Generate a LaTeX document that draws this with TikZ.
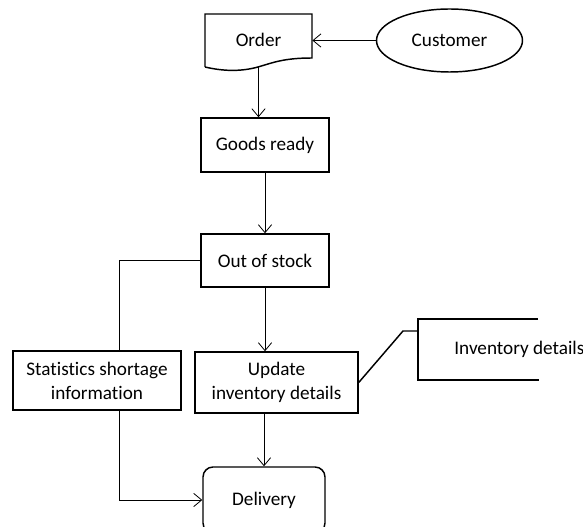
\documentclass[tikz,border=0pt]{standalone}
\usepackage{fontspec}
\setmainfont{Carlito}[Ligatures=CommonOff]
\usetikzlibrary{arrows.meta,shapes.geometric}

\begin{document}
\begin{tikzpicture}[x=0.75pt,y=-0.75pt,>={Straight Barb[length=6pt,width=10pt]},line width=0.6pt,
                    box/.style={rectangle,draw,line width=1.1pt,font=\fontsize{14.4}{18}\selectfont,align=center,inner sep=0pt},
                    plain/.style={font=\fontsize{14.4}{18}\selectfont,inner sep=0pt}]
  \clip (0,0) rectangle (583,527);

  % order sheet with wavy bottom
  \draw[line width=1.1pt] (205,67) -- (205,14) -- (312,14) -- (312,58)
      .. controls (283,58) and (272,63) .. (258,67)
      .. controls (240,72) and (222,71) .. (205,67);
  \node[plain,minimum width=80.25pt,minimum height=39.75pt] (order) at (258.5,40.5) {\raisebox{1.5pt}{Order}};
  \node[box,ellipse,minimum width=109.5pt,minimum height=47.25pt] (cust) at (449.5,40.5) {Customer};

  \node[box,minimum width=96pt,minimum height=40.5pt] (goods) at (265,145) {Goods ready};
  \node[box,minimum width=96pt,minimum height=39.75pt] (stock) at (265,260.5) {Out of stock};
  \node[box,minimum width=126pt,minimum height=44.25pt] (stats) at (97,380.5) {Statistics shortage\\information};
  \node[box,minimum width=122.25pt,minimum height=45.75pt] (update) at (276.5,382.5) {Update\\inventory details};
  \node[box,rounded corners=7.5pt,minimum width=91.5pt,minimum height=49.5pt] (deliv) at (264,500) {Delivery};

  % data store
  \draw[line width=1.1pt] (538,319) -- (418,319) -- (418,380) -- (539,380);
  \node[plain,anchor=west] (store) at (454,349) {Inventory details};
  \coordinate (storein) at (418,331);
  \coordinate (split) at (119,260.5);

  \path[->]
    (cust) edge (order)
    (order.south) edge (order.south |- goods.north)
    (goods) edge (stock)
    (stock.south) edge (stock.south |- update.north)
    (update.south -| deliv.north) edge (deliv.north);
  \draw (stock.west) -- (split) -- (split |- stats.north);
  \draw[->] (split |- stats.south) |- (deliv.west);
  \draw[line width=1.1pt] (update.east) -- (403,331) -- (storein);
\end{tikzpicture}
\end{document}
